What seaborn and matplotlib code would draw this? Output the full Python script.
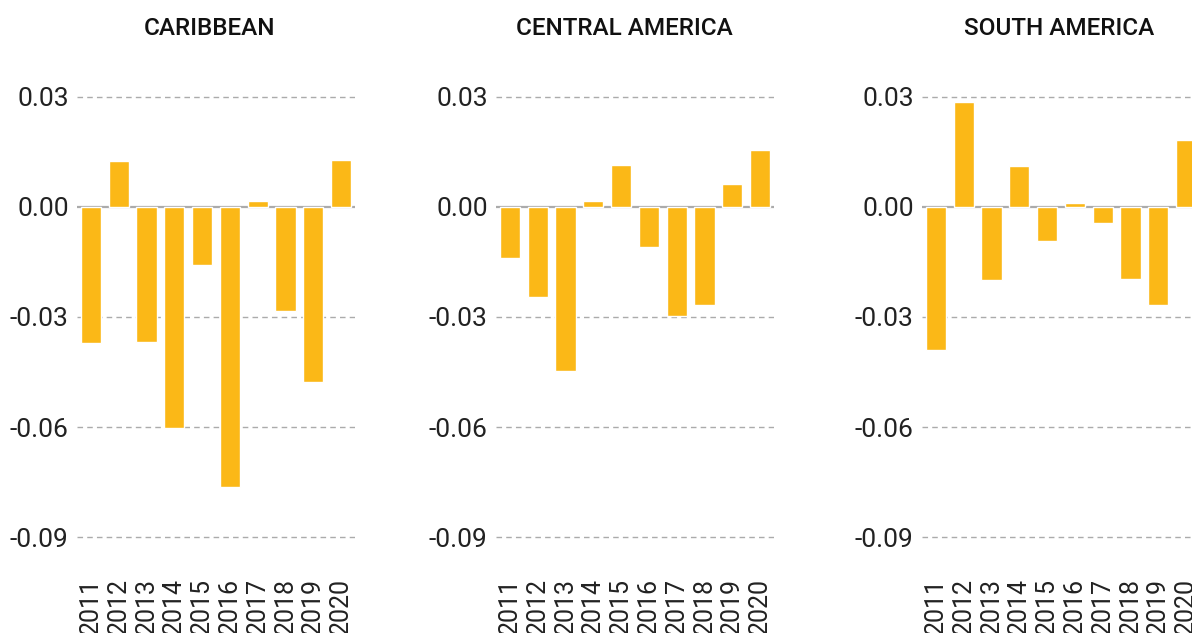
import matplotlib
matplotlib.use("Agg")
import matplotlib.pyplot as plt
import seaborn as sns

# data
years = ["2011", "2012", "2013", "2014", "2015", "2016", "2017", "2018", "2019", "2020"]
regions = ["CARIBBEAN", "CENTRAL AMERICA", "SOUTH AMERICA"]
caribbean = [-0.0371, 0.0125, -0.0368, -0.0603, -0.0158, -0.0764, 0.0015, -0.0284, -0.0477, 0.0127]
central_america = [-0.0139, -0.0245, -0.0447, 0.0015, 0.0114, -0.0109, -0.0297, -0.0267, 0.0062, 0.0155]
south_america = [-0.0390, 0.0285, -0.0199, 0.0111, -0.0093, 0.0010, -0.0044, -0.0196, -0.0267, 0.0182]
yticks = [0.03, 0.00, -0.03, -0.06, -0.09]

bar_color = "#FBB817"
grid_color = "#ABABAB"

sns.set_style("white")
plt.rcParams["font.family"] = ["Roboto", "DejaVu Sans"]

fig = plt.figure(figsize=(11.92, 6.33), dpi=100)

# panel placement (figure fractions); the last panel runs off the right edge like the original
lefts = [77 / 1192, 496 / 1192, 922 / 1192]
title_x = [0.477, 0.462, 0.495]
width = 278 / 1192
bottom = (633 - 574) / 633
height = 514 / 633

for left, tx, title, vals in zip(lefts, title_x, regions, [caribbean, central_america, south_america]):
    ax = fig.add_axes([left, bottom, width, height])
    for t in yticks:
        if t == 0:
            ax.axhline(0, color=grid_color, lw=1.6, zorder=1)
        else:
            ax.axhline(t, color=grid_color, lw=1.0, ls=(0, (4, 3)), zorder=1)
    sns.barplot(x=years, y=vals, color=bar_color, saturation=1, width=0.72,
                ax=ax, zorder=2)
    ax.set_xlim(-0.5, 9.5)
    ax.set_ylim(-0.1, 0.04)
    ax.set_yticks(yticks)
    ax.set_yticklabels([f"{t:.2f}" for t in yticks], fontsize=19, color="#222222")
    ax.set_xticks(range(len(years)))
    ax.set_xticklabels(years, rotation=90, fontsize=18, color="#222222")
    ax.tick_params(axis="y", length=0, pad=6)
    ax.tick_params(axis="x", length=0, pad=3)
    ax.set_xlabel("")
    ax.set_ylabel("")
    for s in ax.spines.values():
        s.set_visible(False)
    ax.set_title(title, fontsize=17.5, fontweight=500, color="#111111", pad=18, x=tx)

fig.savefig("out.png", dpi=100)
